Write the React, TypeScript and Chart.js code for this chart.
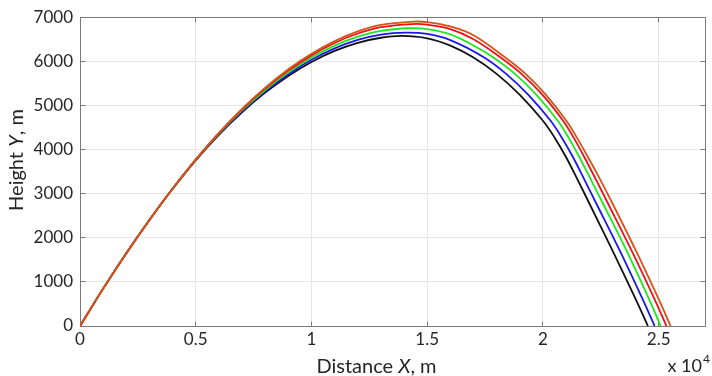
import { useEffect, useRef } from "react";
import { Chart, registerables } from "chart.js";

Chart.register(...registerables);

// ---- data ----
const xTicks = [0, 5000, 10000, 15000, 20000, 25000];
const yTicks = [0, 1000, 2000, 3000, 4000, 5000, 6000, 7000];
const xMax = 27000;
const yMax = 7000;

const blackX = [0, 1000, 2000, 3000, 4000, 5000, 6000, 7000, 8000, 9000, 10000, 11000, 12000, 13000, 13900, 15000, 16000, 17000, 18000, 19000, 20000, 20500, 21000, 21500, 22000, 23000, 24000, 24533];
const blackY = [0, 847, 1650, 2405, 3110, 3756, 4335, 4846, 5290, 5669, 5985, 6236, 6420, 6534, 6575, 6522, 6357, 6088, 5716, 5240, 4653, 4275, 3826, 3313, 2783, 1713, 613, 0];

const blueX = [0, 1000, 2000, 3000, 4000, 5000, 6000, 7000, 8000, 9000, 10000, 11000, 12000, 13000, 14050, 15000, 16000, 17460, 18410, 19370, 20330, 20810, 21300, 21795, 22300, 23315, 24300, 24823];
const blueY = [0, 847, 1650, 2405, 3110, 3761, 4347, 4866, 5320, 5709, 6035, 6294, 6485, 6606, 6650, 6620, 6480, 6088, 5716, 5240, 4653, 4275, 3826, 3313, 2783, 1713, 613, 0];

const greenX = [0, 1000, 2000, 3000, 4000, 5000, 6000, 7000, 8000, 9000, 10000, 11000, 12000, 13000, 14200, 15000, 16000, 17000, 17860, 18790, 19720, 20640, 21100, 21575, 22075, 22585, 23605, 24580, 25083];
const greenY = [0, 847, 1650, 2405, 3110, 3766, 4360, 4886, 5350, 5749, 6085, 6356, 6560, 6692, 6750, 6730, 6610, 6360, 6088, 5716, 5240, 4653, 4275, 3826, 3313, 2783, 1713, 613, 0];

const redX = [0, 1000, 2000, 3000, 4000, 5000, 6000, 7000, 8000, 9000, 10000, 11000, 12000, 13000, 14350, 15000, 16000, 17000, 18170, 19070, 19980, 20870, 21320, 21790, 22295, 22805, 23825, 24815, 25333];
const redY = [0, 847, 1650, 2405, 3110, 3771, 4370, 4906, 5380, 5789, 6135, 6416, 6630, 6774, 6845, 6830, 6730, 6500, 6088, 5716, 5240, 4653, 4275, 3826, 3313, 2783, 1713, 613, 0];

const orangeX = [0, 1000, 2000, 3000, 4000, 5000, 6000, 7000, 8000, 9000, 10000, 11000, 12000, 13000, 14450, 15000, 16000, 17000, 18370, 19250, 20130, 21010, 21460, 21950, 22480, 23000, 24010, 24995, 25513];
const orangeY = [0, 847, 1650, 2405, 3110, 3776, 4380, 4921, 5400, 5819, 6170, 6458, 6678, 6824, 6900, 6890, 6790, 6590, 6088, 5716, 5240, 4653, 4275, 3826, 3313, 2783, 1713, 613, 0];

const TEXT = "#262626";
const FONT = "Lato";

const pts = (xs: number[], ys: number[]) => xs.map((x, i) => ({ x, y: ys[i] }));

const framePlugin = {
  id: "frame",
  beforeDatasetsDraw(chart: any) {
    const { ctx, chartArea: a, scales } = chart;
    const l = Math.floor(a.left) + 0.5;
    const r = Math.floor(a.right) + 0.5;
    const t = Math.floor(a.top) + 0.5;
    const b = Math.floor(a.bottom) + 0.5;
    ctx.save();
    ctx.strokeStyle = "#7a7a7a";
    ctx.lineWidth = 1;
    ctx.beginPath();
    ctx.rect(l, t, r - l, b - t);
    const tl = 5;
    for (const v of xTicks) {
      const px = Math.floor(scales.x.getPixelForValue(v)) + 0.5;
      ctx.moveTo(px, b);
      ctx.lineTo(px, b - tl);
      ctx.moveTo(px, t);
      ctx.lineTo(px, t + tl);
    }
    for (const v of yTicks) {
      const py = Math.floor(scales.y.getPixelForValue(v)) + 0.5;
      ctx.moveTo(l, py);
      ctx.lineTo(l + tl, py);
      ctx.moveTo(r, py);
      ctx.lineTo(r - tl, py);
    }
    ctx.stroke();
    ctx.restore();
  },
  afterDraw(chart: any) {
    const { ctx, chartArea: a } = chart;
    ctx.save();
    ctx.fillStyle = TEXT;
    const measure = (parts: { t: string; i: boolean }[], size: number) => {
      let w = 0;
      for (const p of parts) {
        ctx.font = `${p.i ? "italic " : ""}${size}px ${FONT}`;
        w += ctx.measureText(p.t).width;
      }
      return w;
    };
    const paint = (parts: { t: string; i: boolean }[], size: number, x: number, y: number) => {
      let cx = x;
      for (const p of parts) {
        ctx.font = `${p.i ? "italic " : ""}${size}px ${FONT}`;
        ctx.fillText(p.t, cx, y);
        cx += ctx.measureText(p.t).width;
      }
    };
    ctx.textBaseline = "alphabetic";
    ctx.textAlign = "left";
    const size = 20;
    // x title
    const xParts = [
      { t: "Distance ", i: false },
      { t: "X", i: true },
      { t: ", m", i: false },
    ];
    const xw = measure(xParts, size);
    const xc = (a.left + a.right) / 2 - 16;
    paint(xParts, size, xc - xw / 2, 373);
    // y title
    const yParts = [
      { t: "Height ", i: false },
      { t: "Y", i: true },
      { t: ", m", i: false },
    ];
    const yw = measure(yParts, size);
    ctx.save();
    ctx.translate(22.5, 160);
    ctx.rotate(-Math.PI / 2);
    paint(yParts, size, -yw / 2, 0);
    ctx.restore();
    // exponent label
    ctx.font = `18px ${FONT}`;
    const base = "x 10";
    const bw = ctx.measureText(base).width;
    ctx.fillText(base, 702 - bw, 372);
    ctx.font = `12px ${FONT}`;
    ctx.fillText("4", 703, 363);
    ctx.restore();
  },
};

export default function App() {
  const ref = useRef<HTMLCanvasElement | null>(null);
  useEffect(() => {
    document.body.style.margin = "0";
    const canvas = ref.current;
    if (!canvas) return;
    const mk = (label: string, xs: number[], ys: number[], color: string) => ({
      label,
      data: pts(xs, ys),
      borderColor: color,
      backgroundColor: color,
      borderWidth: 1.8,
      pointRadius: 0,
      showLine: true,
      fill: false,
      tension: 0.35,
    });
    const chart = new Chart(canvas, {
      type: "scatter",
      data: {
        datasets: [
          mk("orange", orangeX, orangeY, "#d95319"),
          mk("red", redX, redY, "#e8141a"),
          mk("green", greenX, greenY, "#1ee61e"),
          mk("blue", blueX, blueY, "#1a1ae6"),
          mk("black", blackX, blackY, "#111111"),
        ],
      },
      options: {
        animation: false,
        responsive: false,
        devicePixelRatio: 1,
        layout: { padding: { top: 12, right: 7, left: 0, bottom: 0 } },
        plugins: { legend: { display: false }, tooltip: { enabled: false } },
        scales: {
          x: {
            type: "linear",
            min: 0,
            max: xMax,
            afterFit: (s: any) => {
              s.height = 50;
            },
            afterBuildTicks: (s: any) => {
              s.ticks = xTicks.map((v) => ({ value: v }));
            },
            grid: { color: "#e6e6e6", lineWidth: 1, drawTicks: false },
            border: { display: false },
            ticks: {
              padding: 3,
              color: TEXT,
              font: { family: FONT, size: 17 },
              maxRotation: 0,
              autoSkip: false,
              callback: (v: any) => String(Number(v) / 10000),
            },
          },
          y: {
            type: "linear",
            min: 0,
            max: yMax,
            afterFit: (s: any) => {
              s.width = 80;
            },
            afterBuildTicks: (s: any) => {
              s.ticks = yTicks.map((v) => ({ value: v }));
            },
            grid: { color: "#e6e6e6", lineWidth: 1, drawTicks: false },
            border: { display: false },
            ticks: {
              padding: 7,
              color: TEXT,
              font: { family: FONT, size: 17 },
              autoSkip: false,
              callback: (v: any) => String(v),
            },
          },
        },
      },
      plugins: [framePlugin],
    });
    return () => chart.destroy();
  }, []);
  return (
    <div style={{ position: "fixed", left: 0, top: 0, width: 712, height: 376, background: "#fff" }}>
      <canvas ref={ref} width={712} height={376} style={{ width: 712, height: 376, display: "block" }} />
    </div>
  );
}
